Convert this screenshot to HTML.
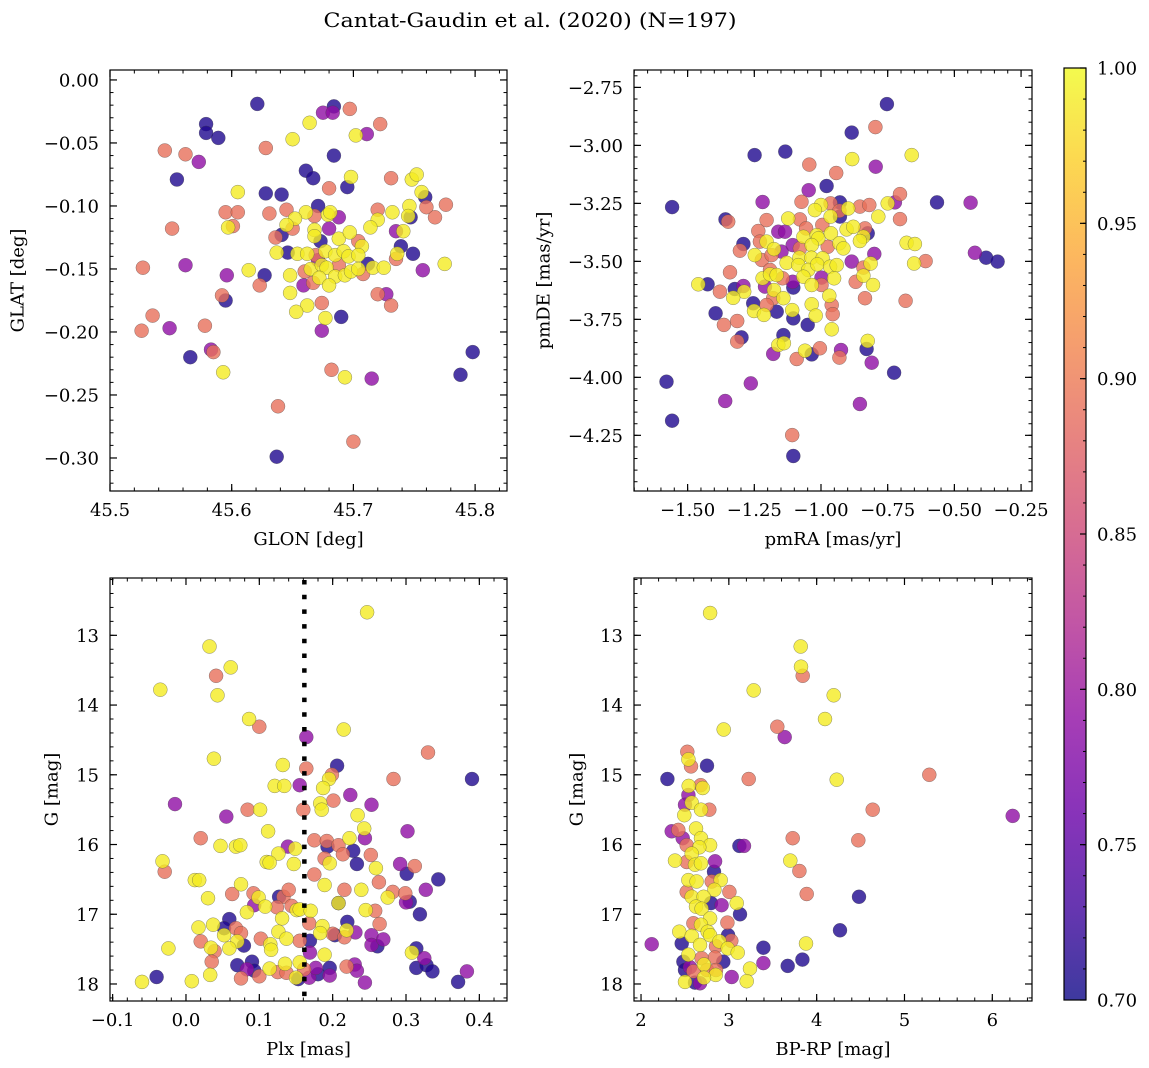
<!DOCTYPE html>
<html><head><meta charset="utf-8">
<style>
html,body{margin:0;padding:0;background:#fff;}
svg{display:block;font-family:"DejaVu Serif","Liberation Serif",serif;}
</style></head>
<body>
<svg id="fig" width="1149" height="1068" viewBox="0 0 1149 1068" xmlns="http://www.w3.org/2000/svg">
<defs>
<linearGradient id="plasmaGrad" x1="0" y1="1" x2="0" y2="0">
<stop offset="0" stop-color="#0d0887"/><stop offset="0.1" stop-color="#41049d"/><stop offset="0.2" stop-color="#6a00a8"/><stop offset="0.3" stop-color="#8f0da4"/><stop offset="0.4" stop-color="#b12a90"/><stop offset="0.5" stop-color="#cc4778"/><stop offset="0.6" stop-color="#e16462"/><stop offset="0.7" stop-color="#f2844b"/><stop offset="0.8" stop-color="#fca636"/><stop offset="0.9" stop-color="#fcce25"/><stop offset="1" stop-color="#f0f921"/>
</linearGradient>
</defs>
<text x="530" y="27" text-anchor="middle" font-size="20" textLength="413" lengthAdjust="spacingAndGlyphs">Cantat-Gaudin et al. (2020) (N=197)</text>
</svg>
<script>
// ---- data (prob: membership probability) ----
const p1Stars = [[45.621,-0.019,0.71],[45.684,-0.021,0.71],[45.675,-0.026,0.79],[45.683,-0.026,0.79],[45.697,-0.023,0.89],[45.722,-0.035,0.89],[45.664,-0.034,0.99],[45.579,-0.035,0.71],[45.579,-0.042,0.71],[45.589,-0.046,0.71],
[45.650,-0.047,0.99],[45.702,-0.044,0.99],[45.711,-0.043,0.79],[45.545,-0.056,0.89],[45.562,-0.059,0.89],[45.573,-0.065,0.79],[45.628,-0.054,0.89],[45.684,-0.060,0.71],[45.555,-0.079,0.71],[45.661,-0.072,0.71],
[45.667,-0.078,0.71],[45.698,-0.077,0.99],[45.695,-0.085,0.71],[45.680,-0.086,0.89],[45.731,-0.078,0.89],[45.748,-0.079,0.99],[45.752,-0.075,0.99],[45.756,-0.089,0.99],[45.759,-0.093,0.71],[45.776,-0.099,0.89],
[45.605,-0.089,0.99],[45.628,-0.090,0.71],[45.641,-0.091,0.71],[45.671,-0.100,0.71],[45.595,-0.105,0.89],[45.605,-0.105,0.89],[45.631,-0.106,0.89],[45.645,-0.103,0.89],[45.661,-0.105,0.99],[45.668,-0.108,0.89],
[45.679,-0.107,0.99],[45.681,-0.105,0.99],[45.688,-0.109,0.79],[45.720,-0.103,0.89],[45.720,-0.111,0.99],[45.732,-0.105,0.99],[45.746,-0.100,0.99],[45.745,-0.108,0.99],[45.747,-0.109,0.71],[45.760,-0.101,0.89],
[45.767,-0.109,0.89],[45.551,-0.118,0.89],[45.597,-0.117,0.99],[45.601,-0.116,0.89],[45.652,-0.110,0.99],[45.645,-0.115,0.99],[45.650,-0.118,0.89],[45.668,-0.119,0.99],[45.680,-0.118,0.79],[45.714,-0.117,0.99],
[45.735,-0.120,0.79],[45.741,-0.120,0.99],[45.636,-0.125,0.89],[45.641,-0.123,0.71],[45.668,-0.124,0.99],[45.673,-0.128,0.71],[45.688,-0.126,0.99],[45.697,-0.121,0.99],[45.704,-0.128,0.89],[45.707,-0.132,0.99],
[45.739,-0.132,0.71],[45.637,-0.137,0.99],[45.646,-0.137,0.71],[45.654,-0.138,0.99],[45.662,-0.138,0.99],[45.669,-0.139,0.89],[45.677,-0.136,0.99],[45.685,-0.139,0.99],[45.692,-0.136,0.99],[45.696,-0.140,0.99],
[45.704,-0.139,0.99],[45.736,-0.138,0.99],[45.735,-0.142,0.89],[45.749,-0.138,0.71],[45.775,-0.146,0.99],[45.527,-0.149,0.89],[45.562,-0.147,0.79],[45.614,-0.151,0.99],[45.627,-0.155,0.71],[45.648,-0.155,0.99],
[45.660,-0.152,0.89],[45.665,-0.150,0.99],[45.671,-0.143,0.79],[45.674,-0.147,0.99],[45.678,-0.149,0.99],[45.685,-0.156,0.99],[45.688,-0.147,0.89],[45.693,-0.155,0.99],[45.698,-0.152,0.99],[45.704,-0.150,0.99],
[45.708,-0.154,0.89],[45.712,-0.146,0.71],[45.716,-0.149,0.99],[45.725,-0.149,0.99],[45.757,-0.151,0.79],[45.596,-0.155,0.79],[45.623,-0.163,0.89],[45.659,-0.163,0.79],[45.667,-0.161,0.89],[45.672,-0.157,0.99],
[45.680,-0.163,0.99],[45.648,-0.169,0.99],[45.674,-0.177,0.89],[45.662,-0.179,0.99],[45.653,-0.184,0.99],[45.677,-0.189,0.99],[45.690,-0.188,0.71],[45.592,-0.171,0.89],[45.595,-0.175,0.71],[45.720,-0.170,0.89],
[45.727,-0.170,0.79],[45.731,-0.179,0.89],[45.674,-0.199,0.79],[45.535,-0.187,0.89],[45.526,-0.199,0.89],[45.549,-0.197,0.79],[45.578,-0.195,0.89],[45.566,-0.220,0.71],[45.583,-0.214,0.79],[45.585,-0.216,0.89],
[45.593,-0.232,0.99],[45.682,-0.230,0.89],[45.693,-0.236,0.99],[45.715,-0.237,0.79],[45.798,-0.216,0.71],[45.788,-0.234,0.71],[45.638,-0.259,0.89],[45.700,-0.287,0.89],[45.637,-0.299,0.71]];

const p2Stars = [[-0.753,-2.822,0.71],[-0.885,-2.945,0.71],[-0.796,-2.921,0.89],[-1.249,-3.042,0.71],[-1.134,-3.027,0.71],[-0.883,-3.059,0.99],[-0.660,-3.042,0.99],[-0.795,-3.092,0.79],[-1.044,-3.083,0.89],[-0.943,-3.119,0.89],
[-0.979,-3.175,0.71],[-1.046,-3.193,0.79],[-1.558,-3.266,0.71],[-1.219,-3.244,0.79],[-1.073,-3.243,0.89],[-1.000,-3.257,0.99],[-1.023,-3.279,0.99],[-0.964,-3.250,0.89],[-0.929,-3.246,0.71],[-0.931,-3.282,0.89],
[-0.898,-3.272,0.99],[-0.854,-3.264,0.89],[-0.819,-3.257,0.89],[-0.750,-3.250,0.99],[-0.723,-3.246,0.79],[-0.704,-3.210,0.89],[-0.565,-3.246,0.71],[-0.439,-3.247,0.79],[-1.358,-3.319,0.71],[-1.348,-3.329,0.89],
[-1.204,-3.322,0.89],[-1.123,-3.315,0.99],[-1.079,-3.319,0.89],[-0.995,-3.343,0.89],[-0.964,-3.307,0.99],[-0.929,-3.307,0.71],[-0.785,-3.307,0.99],[-0.704,-3.318,0.89],[-1.235,-3.369,0.89],[-1.160,-3.372,0.79],
[-1.135,-3.372,0.79],[-1.056,-3.358,0.89],[-1.066,-3.394,0.99],[-1.016,-3.387,0.99],[-1.010,-3.401,0.99],[-0.963,-3.379,0.99],[-0.904,-3.362,0.99],[-0.879,-3.351,0.99],[-0.835,-3.358,0.89],[-0.825,-3.379,0.71],
[-0.841,-3.394,0.99],[-0.854,-3.412,0.99],[-1.291,-3.425,0.71],[-1.204,-3.415,0.99],[-1.176,-3.447,0.99],[-1.106,-3.430,0.79],[-1.229,-3.415,0.89],[-1.304,-3.454,0.89],[-1.079,-3.444,0.89],[-1.035,-3.430,0.99],
[-0.975,-3.437,0.89],[-0.931,-3.422,0.99],[-0.916,-3.444,0.99],[-0.679,-3.420,0.99],[-0.648,-3.425,0.99],[-1.248,-3.473,0.99],[-1.222,-3.494,0.89],[-1.185,-3.473,0.89],[-1.148,-3.458,0.79],[-1.081,-3.484,0.99],
[-1.036,-3.484,0.99],[-0.994,-3.487,0.99],[-0.885,-3.501,0.79],[-0.800,-3.468,0.79],[-0.423,-3.463,0.79],[-0.381,-3.484,0.71],[-0.338,-3.501,0.71],[-0.651,-3.509,0.99],[-0.608,-3.499,0.89],[-1.129,-3.506,0.99],
[-1.341,-3.547,0.89],[-1.191,-3.537,0.89],[-1.085,-3.516,0.99],[-1.048,-3.537,0.99],[-1.014,-3.513,0.99],[-0.966,-3.523,0.99],[-0.941,-3.516,0.99],[-0.841,-3.527,0.89],[-0.814,-3.509,0.99],[-1.460,-3.599,0.99],
[-1.425,-3.599,0.71],[-1.323,-3.619,0.71],[-1.291,-3.606,0.79],[-1.288,-3.631,0.99],[-1.379,-3.631,0.89],[-1.219,-3.573,0.99],[-1.191,-3.556,0.99],[-1.166,-3.559,0.99],[-1.144,-3.573,0.89],[-1.106,-3.588,0.79],
[-1.104,-3.613,0.71],[-1.066,-3.566,0.99],[-1.035,-3.602,0.99],[-0.998,-3.570,0.79],[-0.998,-3.602,0.89],[-0.951,-3.573,0.99],[-0.870,-3.588,0.89],[-0.841,-3.562,0.99],[-0.805,-3.602,0.99],[-1.329,-3.657,0.99],
[-1.210,-3.609,0.79],[-1.176,-3.624,0.99],[-1.141,-3.659,0.99],[-1.179,-3.659,0.89],[-0.969,-3.648,0.99],[-0.835,-3.659,0.89],[-0.683,-3.670,0.89],[-1.254,-3.681,0.71],[-1.251,-3.714,0.99],[-1.214,-3.731,0.99],
[-1.204,-3.688,0.89],[-1.166,-3.717,0.71],[-1.108,-3.710,0.99],[-1.035,-3.685,0.99],[-1.020,-3.734,0.99],[-0.960,-3.688,0.89],[-0.956,-3.728,0.89],[-1.395,-3.724,0.71],[-1.364,-3.774,0.89],[-1.314,-3.757,0.89],
[-1.104,-3.746,0.71],[-1.050,-3.774,0.71],[-0.960,-3.793,0.99],[-1.298,-3.828,0.71],[-1.314,-3.846,0.89],[-1.141,-3.818,0.71],[-1.160,-3.861,0.99],[-1.139,-3.853,0.99],[-1.060,-3.885,0.99],[-1.035,-3.901,0.71],
[-1.004,-3.875,0.89],[-1.091,-3.921,0.89],[-1.179,-3.899,0.79],[-0.925,-3.882,0.79],[-0.931,-3.915,0.89],[-0.829,-3.878,0.71],[-0.825,-3.843,0.99],[-0.810,-3.937,0.79],[-0.726,-3.980,0.71],[-1.579,-4.019,0.71],
[-1.263,-4.026,0.79],[-1.359,-4.102,0.79],[-0.854,-4.115,0.79],[-1.558,-4.187,0.71],[-1.108,-4.249,0.89],[-1.104,-4.339,0.71]];

const p3Stars = [[0.247,12.67,0.99],[0.032,13.16,0.99],[0.061,13.46,0.99],[0.041,13.58,0.89],[-0.035,13.78,0.99],[0.043,13.86,0.99],[0.086,14.20,0.99],[0.100,14.31,0.89],[0.215,14.35,0.99],[0.164,14.46,0.79],
[0.330,14.68,0.89],[0.038,14.77,0.99],[0.132,14.86,0.99],[0.206,14.87,0.71],[0.164,14.91,0.89],[0.199,15.00,0.89],[0.390,15.06,0.71],[0.283,15.06,0.89],[0.121,15.16,0.99],[0.134,15.16,0.99],
[0.155,15.15,0.79],[0.195,15.06,0.99],[0.187,15.19,0.99],[0.224,15.29,0.79],[-0.015,15.42,0.79],[0.183,15.41,0.99],[0.185,15.50,0.99],[0.201,15.37,0.89],[0.253,15.43,0.79],[0.084,15.50,0.89],
[0.101,15.50,0.99],[0.160,15.50,0.89],[0.234,15.58,0.99],[0.055,15.60,0.79],[0.112,15.81,0.99],[0.243,15.77,0.99],[0.244,15.91,0.79],[0.302,15.81,0.79],[0.020,15.91,0.89],[0.047,16.02,0.99],
[0.068,16.03,0.99],[0.074,16.01,0.99],[0.139,16.03,0.79],[0.149,16.06,0.99],[0.175,15.94,0.89],[0.192,15.95,0.89],[0.193,16.03,0.71],[0.208,16.01,0.89],[0.214,16.14,0.89],[0.223,15.91,0.99],
[0.228,16.09,0.71],[0.233,16.28,0.71],[0.252,16.15,0.89],[0.126,16.13,0.99],[-0.032,16.24,0.99],[-0.029,16.39,0.89],[0.110,16.25,0.99],[0.114,16.26,0.99],[0.147,16.28,0.99],[0.189,16.20,0.89],
[0.196,16.27,0.99],[0.259,16.34,0.99],[0.292,16.28,0.79],[0.301,16.42,0.71],[0.312,16.31,0.89],[0.344,16.50,0.71],[0.012,16.51,0.99],[0.018,16.51,0.99],[0.075,16.57,0.99],[0.175,16.43,0.89],
[0.189,16.58,0.99],[0.216,16.65,0.89],[0.263,16.54,0.89],[0.239,16.65,0.99],[0.282,16.68,0.89],[0.327,16.65,0.79],[0.030,16.77,0.99],[0.063,16.71,0.89],[0.092,16.70,0.89],[0.099,16.76,0.99],
[0.093,16.87,0.79],[0.108,16.89,0.99],[0.127,16.75,0.71],[0.133,16.75,0.89],[0.140,16.65,0.89],[0.124,16.90,0.89],[0.144,16.88,0.89],[0.151,16.94,0.99],[0.155,16.93,0.99],[0.170,16.95,0.99],
[0.208,16.84,0.71],[0.208,16.84,0.99],[0.245,16.94,0.99],[0.258,16.95,0.89],[0.275,16.76,0.99],[0.299,16.70,0.89],[0.300,16.83,0.79],[0.305,16.82,0.71],[0.319,17.00,0.71],[0.083,16.97,0.99],
[0.059,17.07,0.71],[0.131,17.06,0.99],[0.017,17.19,0.99],[0.037,17.15,0.99],[0.052,17.20,0.71],[0.068,17.20,0.89],[0.052,17.30,0.99],[0.075,17.27,0.89],[0.070,17.39,0.99],[0.079,17.45,0.71],
[0.059,17.49,0.99],[0.020,17.39,0.89],[0.034,17.48,0.99],[0.039,17.53,0.89],[0.035,17.68,0.89],[-0.024,17.49,0.99],[0.102,17.35,0.89],[0.126,17.25,0.99],[0.137,17.35,0.99],[0.115,17.43,0.99],
[0.116,17.51,0.99],[0.155,17.38,0.89],[0.168,17.13,0.89],[0.169,17.38,0.71],[0.169,17.55,0.79],[0.186,17.17,0.99],[0.183,17.27,0.99],[0.200,17.28,0.89],[0.203,17.30,0.71],[0.216,17.33,0.89],
[0.220,17.11,0.71],[0.219,17.23,0.99],[0.231,17.26,0.79],[0.264,17.14,0.89],[0.253,17.30,0.79],[0.253,17.44,0.79],[0.261,17.46,0.71],[0.269,17.36,0.79],[0.189,17.58,0.99],[0.314,17.49,0.71],
[0.308,17.55,0.99],[0.325,17.63,0.79],[0.314,17.77,0.71],[0.328,17.73,0.71],[0.336,17.82,0.71],[0.383,17.82,0.79],[0.371,17.97,0.71],[-0.060,17.97,0.99],[-0.040,17.90,0.71],[0.008,17.96,0.99],
[0.033,17.87,0.99],[0.070,17.73,0.71],[0.075,17.92,0.89],[0.083,17.79,0.79],[0.090,17.68,0.71],[0.093,17.81,0.71],[0.100,17.89,0.89],[0.114,17.78,0.99],[0.125,17.83,0.89],[0.135,17.71,0.99],
[0.137,17.84,0.89],[0.150,17.91,0.99],[0.155,17.69,0.99],[0.153,17.93,0.71],[0.161,17.79,0.89],[0.168,17.91,0.79],[0.177,17.77,0.79],[0.180,17.86,0.71],[0.196,17.77,0.71],[0.196,17.88,0.79],
[0.219,17.75,0.89],[0.230,17.72,0.79],[0.233,17.81,0.79],[0.244,17.98,0.79]];

const p4Stars = [[2.786,12.68,0.99],[3.818,13.16,0.99],[3.822,13.45,0.99],[3.841,13.58,0.89],[3.283,13.79,0.99],[4.194,13.86,0.99],[4.095,14.20,0.99],[3.552,14.31,0.89],[3.636,14.46,0.79],[2.941,14.35,0.99],
[2.527,14.67,0.89],[2.539,14.78,0.99],[2.569,14.88,0.89],[2.751,14.87,0.71],[2.300,15.06,0.71],[3.226,15.06,0.89],[4.228,15.07,0.99],[5.283,15.00,0.89],[4.638,15.50,0.89],[6.232,15.59,0.79],
[2.543,15.16,0.99],[2.679,15.15,0.89],[2.702,15.19,0.99],[2.539,15.29,0.79],[2.577,15.40,0.99],[2.501,15.43,0.79],[2.683,15.50,0.99],[2.778,15.50,0.89],[2.493,15.58,0.99],[2.349,15.81,0.79],
[2.425,15.79,0.89],[2.626,15.77,0.99],[2.683,15.91,0.99],[2.474,15.91,0.79],[2.520,16.01,0.89],[2.786,16.01,0.99],[2.664,16.04,0.99],[3.120,16.02,0.71],[3.173,16.02,0.79],[3.727,15.91,0.89],
[4.474,15.94,0.89],[2.387,16.23,0.99],[2.577,16.13,0.99],[2.520,16.25,0.89],[2.615,16.29,0.99],[2.683,16.27,0.99],[2.843,16.24,0.79],[2.831,16.39,0.71],[3.700,16.23,0.99],[3.803,16.38,0.89],
[2.539,16.51,0.99],[2.633,16.53,0.99],[2.805,16.53,0.89],[2.907,16.51,0.99],[3.006,16.68,0.89],[2.835,16.65,0.99],[2.520,16.68,0.89],[2.577,16.75,0.99],[2.713,16.75,0.99],[2.797,16.84,0.71],
[2.918,16.87,0.79],[3.089,16.84,0.99],[3.127,17.00,0.71],[3.886,16.71,0.89],[4.482,16.75,0.71],[2.626,16.89,0.99],[2.690,16.92,0.99],[2.786,17.06,0.99],[2.983,17.12,0.89],[2.596,17.13,0.89],
[2.683,17.15,0.99],[2.436,17.25,0.99],[2.759,17.25,0.99],[2.577,17.31,0.99],[2.786,17.30,0.99],[2.991,17.30,0.71],[3.028,17.38,0.89],[2.892,17.39,0.99],[2.672,17.44,0.99],[2.854,17.46,0.89],
[2.987,17.49,0.99],[3.101,17.55,0.99],[2.463,17.42,0.71],[2.121,17.43,0.79],[3.393,17.48,0.71],[3.879,17.42,0.99],[4.266,17.23,0.71],[2.539,17.58,0.99],[2.482,17.68,0.71],[2.690,17.63,0.89],
[2.842,17.62,0.89],[2.937,17.68,0.71],[2.717,17.72,0.99],[2.501,17.80,0.71],[2.596,17.82,0.89],[2.751,17.80,0.89],[2.854,17.80,0.89],[2.850,17.87,0.99],[3.032,17.90,0.79],[2.717,17.91,0.99],
[2.501,17.97,0.99],[2.615,17.98,0.71],[2.672,17.99,0.79],[3.241,17.78,0.99],[3.203,17.96,0.99],[3.393,17.70,0.79],[3.670,17.74,0.71],[3.837,17.65,0.71],[2.558,17.76,0.79]];

const plxMean = 0.1614;

const p1XTicks = [45.5,45.6,45.7,45.8];
const p1YTicks = [0.00,-0.05,-0.10,-0.15,-0.20,-0.25,-0.30];
const p2XTicks = [-1.50,-1.25,-1.00,-0.75,-0.50,-0.25];
const p2YTicks = [-2.75,-3.00,-3.25,-3.50,-3.75,-4.00,-4.25];
const p3XTicks = [-0.1,0.0,0.1,0.2,0.3,0.4];
const gTicks = [13,14,15,16,17,18];
const p4XTicks = [2,3,4,5,6];
const cbTicks = [0.70,0.75,0.80,0.85,0.90,0.95,1.00];
const cbMin = 0.70, cbMax = 1.00;

// ---- rendering ----
const NS = "http://www.w3.org/2000/svg";
const svg = document.getElementById('fig');
function mk(tag, attrs, parent){
  const e = document.createElementNS(NS, tag);
  for (const k in attrs) e.setAttribute(k, attrs[k]);
  (parent||svg).appendChild(e);
  return e;
}
const plasma = ["#0d0887","#41049d","#6a00a8","#8f0da4","#b12a90","#cc4778","#e16462","#f2844b","#fca636","#fcce25","#f0f921"];
function hex(h){return [parseInt(h.substr(1,2),16),parseInt(h.substr(3,2),16),parseInt(h.substr(5,2),16)];}
function cmap(v){
  let t = (v-cbMin)/(cbMax-cbMin); t=Math.max(0,Math.min(1,t));
  const s = t*10, i = Math.min(9,Math.floor(s)), f = s-i;
  const a = hex(plasma[i]), b = hex(plasma[i+1]);
  return 'rgb('+a.map((c,k)=>Math.round(c+(b[k]-c)*f)).join(',')+')';
}
function fmt(v,d){const s=Math.abs(v).toFixed(d);return (v<-1e-9?'\u2212':'')+s;}

const panels = [
 {name:'glon-glat', stars:p1Stars, L:110,R:507,T:70,B:491, x0:45.5,x1:45.8262, y0:-0.3262,y1:0.0079, xt:p1XTicks,xd:1,xm:0.02, yt:p1YTicks,yd:2,ym:0.01, xl:'GLON [deg]', yl:'GLAT [deg]', ylx:18},
 {name:'pm', stars:p2Stars, L:634,R:1032,T:70,B:491, x0:-1.701,x1:-0.209, y0:-4.490,y1:-2.675, xt:p2XTicks,xd:2,xm:0.05, yt:p2YTicks,yd:2,ym:0.05, xl:'pmRA [mas/yr]', yl:'pmDE [mas/yr]', ylx:544},
 {name:'plx-g', stars:p3Stars, L:110,R:507,T:578,B:1001, x0:-0.1036,x1:0.4377, y0:18.244,y1:12.178, xt:p3XTicks,xd:1,xm:0.02, yt:gTicks,yd:0,ym:0.2, xl:'Plx [mas]', yl:'G [mag]', ylx:52},
 {name:'cmd', stars:p4Stars, L:634,R:1032,T:578,B:1001, x0:1.920,x1:6.452, y0:18.244,y1:12.178, xt:p4XTicks,xd:0,xm:0.2, yt:gTicks,yd:0,ym:0.2, xl:'BP-RP [mag]', yl:'G [mag]', ylx:577}
];

panels.forEach((p,pi)=>{
  const sx = v => p.L + (v-p.x0)/(p.x1-p.x0)*(p.R-p.L);
  const sy = v => p.B - (v-p.y0)/(p.y1-p.y0)*(p.B-p.T);
  const g = mk('g',{});
  
  
  const cp = mk('clipPath',{id:'clip'+pi}, g);
  mk('rect',{x:p.L,y:p.T,width:p.R-p.L,height:p.B-p.T}, cp);
  const pts = mk('g',{'clip-path':'url(#clip'+pi+')'}, g);
  
  
  const sorted = p.stars.slice().sort((a,b)=>a[2]-b[2]);
  sorted.forEach(s=>{
    const c = mk('circle',{cx:sx(s[0]).toFixed(1),cy:sy(s[1]).toFixed(1),r:7,fill:cmap(s[2]),'fill-opacity':0.8,stroke:'#444','stroke-width':0.5,'stroke-opacity':0.6}, pts);
    
    
  });
  if (pi===2){
    const ln = mk('line',{x1:sx(plxMean),x2:sx(plxMean),y1:p.T+2,y2:p.B,stroke:'#000','stroke-width':4.5,'stroke-dasharray':'4.5 10.2'}, g);
    
    
  }
  const fr = mk('rect',{x:p.L,y:p.T,width:p.R-p.L,height:p.B-p.T,fill:'none',stroke:'#000','stroke-width':1.2}, g);
  
  
  const xa=Math.min(p.x0,p.x1), xb=Math.max(p.x0,p.x1);
  for (let k=Math.ceil(xa/p.xm-1e-6); k*p.xm<=xb+1e-9; k++){
    const x=sx(k*p.xm);
    mk('line',{x1:x,x2:x,y1:p.B,y2:p.B-3.5,stroke:'#000','stroke-width':1},g);
    mk('line',{x1:x,x2:x,y1:p.T,y2:p.T+3.5,stroke:'#000','stroke-width':1},g);
  }
  const ya=Math.min(p.y0,p.y1), yb=Math.max(p.y0,p.y1);
  for (let k=Math.ceil(ya/p.ym-1e-6); k*p.ym<=yb+1e-9; k++){
    const y=sy(k*p.ym);
    mk('line',{x1:p.L,x2:p.L+3.5,y1:y,y2:y,stroke:'#000','stroke-width':1},g);
    mk('line',{x1:p.R,x2:p.R-3.5,y1:y,y2:y,stroke:'#000','stroke-width':1},g);
  }
  p.xt.forEach(v=>{
    const x=sx(v);
    mk('line',{x1:x,x2:x,y1:p.B,y2:p.B-7,stroke:'#000','stroke-width':1.2},g);
    mk('line',{x1:x,x2:x,y1:p.T,y2:p.T+7,stroke:'#000','stroke-width':1.2},g);
    const t=mk('text',{x:x,y:p.B+25,'text-anchor':'middle','font-size':18},g);
    t.textContent=fmt(v,p.xd);
    
    
  });
  p.yt.forEach(v=>{
    const y=sy(v);
    mk('line',{x1:p.L,x2:p.L+7,y1:y,y2:y,stroke:'#000','stroke-width':1.2},g);
    mk('line',{x1:p.R,x2:p.R-7,y1:y,y2:y,stroke:'#000','stroke-width':1.2},g);
    const t=mk('text',{x:p.L-11,y:y+6.5,'text-anchor':'end','font-size':18},g);
    t.textContent=fmt(v,p.yd);
    
    
  });
  const xl=mk('text',{x:(p.L+p.R)/2,y:p.B+54,'text-anchor':'middle','font-size':18},g);
  xl.textContent=p.xl;
  
  
  const ycy=(p.T+p.B)/2;
  const yl=mk('text',{x:p.ylx,y:ycy,'text-anchor':'middle','font-size':18,transform:'rotate(-90 '+p.ylx+' '+ycy+')','dominant-baseline':'central'},g);
  yl.textContent=p.yl;
  
  
});

(function(){
  const L=1064,R=1086,T=68,B=1000;
  const cy = v => B - (v-cbMin)/(cbMax-cbMin)*(B-T);
  const g=mk('g',{});
  
  
  const r=mk('rect',{x:L,y:T,width:R-L,height:B-T,fill:'url(#plasmaGrad)','fill-opacity':0.8},g);
  
  
  mk('rect',{x:L,y:T,width:R-L,height:B-T,fill:'none',stroke:'#000','stroke-width':1.2},g);
  for (let k=70;k<=100;k++){
    const y=cy(k/100);
    mk('line',{x1:R,x2:R-3,y1:y,y2:y,stroke:'#000','stroke-width':1},g);
  }
  cbTicks.forEach(v=>{
    const y=cy(v);
    mk('line',{x1:R,x2:R-6,y1:y,y2:y,stroke:'#000','stroke-width':1.2},g);
    const t=mk('text',{x:R+11,y:y+6.5,'font-size':18},g);
    t.textContent=v.toFixed(2);
    
    
  });
})();
</script>
</body></html>
